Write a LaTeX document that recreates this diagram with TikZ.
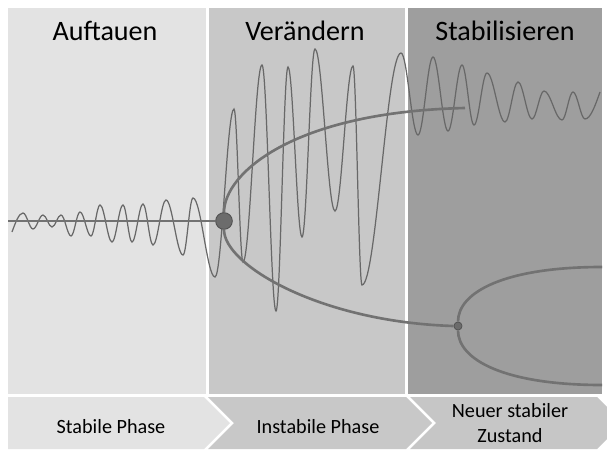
\documentclass[tikz,border=0pt]{standalone}
\usepackage{fontspec}
\setmainfont{Carlito}

\definecolor{phaseA}{RGB}{227,227,227}
\definecolor{phaseB}{RGB}{200,200,200}
\definecolor{phaseC}{RGB}{158,158,158}
\definecolor{chevC}{RGB}{198,198,198}
\definecolor{curvegray}{RGB}{114,114,114}
\definecolor{wavegray}{RGB}{104,104,104}

\tikzset{
  heading/.style={anchor=base, font=\fontsize{16}{19}\selectfont},
  steplabel/.style={anchor=base, align=center, font=\fontsize{11.5}{14.2}\selectfont},
  wave/.style={draw=wavegray, line width=0.7pt},
  branch/.style={draw=curvegray, line width=1.5pt},
  bigdot/.style={circle, fill=curvegray!95!black, draw=curvegray!70!black, line width=0.5pt, minimum size=9.5pt, inner sep=0pt},
  smalldot/.style={circle, fill=curvegray!95!black, draw=curvegray!70!black, line width=0.4pt, minimum size=4.6pt, inner sep=0pt}
}

\begin{document}
\begin{tikzpicture}[x=0.02cm, y=-0.02cm]
  \useasboundingbox (0,0) rectangle (607,449);
  \clip (0,0) rectangle (607,449);

  % the three phases
  \fill[phaseA] (8,8) rectangle (206,394);
  \fill[phaseB] (209,8) rectangle (405,394);
  \fill[phaseC] (408,8) rectangle (602,394);

  \node[heading] (tauen) at (105,41) {Auftauen};
  \node[heading] (aendern) at (305,41) {Verändern};
  \node[heading] (stabil) at (505,41) {Stabilisieren};

  % chevrons
  \fill[phaseA] (8,397) -- (204,397) -- (230,423) -- (204,449) -- (8,449) -- cycle;
  \fill[phaseB] (208,397) -- (406,397) -- (432,423) -- (406,449) -- (208,449) -- (234,423) -- cycle;
  \fill[chevC] (410,397) -- (597,397) -- (623,423) -- (597,449) -- (410,449) -- (436,423) -- cycle;

  \node[steplabel] (stabile) at (111,433) {Stabile Phase};
  \node[steplabel] (instabile) at (318,433) {Instabile Phase};
  \node[steplabel] (neu) at (510,442) {Neuer stabiler\\Zustand};

  % oscillation
  \draw[wave] (12,232) sin (23,213)
    \foreach \x/\y [remember=\x as \lx (initially 23), remember=\y as \ly (initially 213)] in
      {33/229, 43/215, 52/227, 61/215, 71/236, 80/212, 91/236, 100/205,
       112/242, 123/205, 132/242, 143/204, 153/245, 166/200, 183/255, 193/198,
       215/277, 234/109, 243/262, 262/65, 276/311, 288/67, 302/237, 315/49,
       335/211, 353/66, 362/285, 401/53, 418/135, 433/57, 448/131, 462/65,
       474/125, 487/73, 505/122, 518/82, 532/119, 544/91, 562/120, 573/92, 585/119}
      { cos ({(\lx+\x)/2},{(\ly+\y)/2}) sin (\x,\y) }
    cos (600,92);

  % bifurcation
  \node[bigdot] (bif1) at (224,221) {};
  \node[smalldot] (bif2) at (458,326) {};
  \coordinate (start) at (8,221);
  \coordinate (endA) at (465,108);
  \coordinate (endB) at (602,267);
  \coordinate (endC) at (602,385);

  \draw[branch] (start) -- (bif1);
  \draw[branch] (bif1.north) .. controls (224,175) and (290,112) .. (endA);
  \draw[branch] (bif1.south) .. controls (224,265) and (320,322) .. (bif2.west);
  \draw[branch] (bif2.north) .. controls (458,292) and (505,267) .. (endB);
  \draw[branch] (bif2.south) .. controls (458,360) and (505,385) .. (endC);
\end{tikzpicture}
\end{document}
